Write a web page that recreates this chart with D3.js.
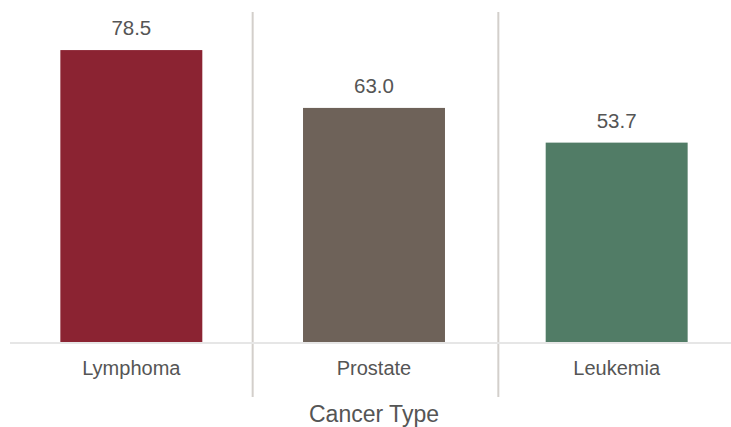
<!DOCTYPE html>
<html>
<head>
<meta charset="utf-8">
<script src="https://cdn.jsdelivr.net/npm/d3@7"></script>
<style>
  html, body { margin: 0; padding: 0; background: #fff; }
  svg { display: block; font-family: "Liberation Sans", Arial, sans-serif; }
</style>
</head>
<body>
<svg id="chart" width="731" height="427"></svg>
<script>
// Survival rates by cancer type
const categories = ["Lymphoma", "Prostate", "Leukemia"];
const values = [78.5, 63.0, 53.7];
const barColors = ["#8B2332", "#6E6259", "#517C66"];
const axisTitle = "Cancer Type";

const svg = d3.select("#chart");
const width = 731, height = 427;
const baseY = 343, topY = 12;

const x = d3.scaleBand()
  .domain(categories)
  .range([10, 738])
  .paddingInner(0)
  .paddingOuter(0);

const y = d3.scaleLinear()
  .domain([0, d3.max(values) * 1.13])
  .range([baseY, topY]);

const barW = x.bandwidth() * 0.585;

// vertical separators between categories
svg.append("g")
  .selectAll("line")
  .data(categories.slice(1))
  .join("line")
  .attr("x1", (d, i) => x(d) + i * 3)
  .attr("x2", (d, i) => x(d) + i * 3)
  .attr("y1", topY)
  .attr("y2", 397)
  .attr("stroke", "#d3cfcb")
  .attr("stroke-width", 2);

// bars
svg.append("g")
  .selectAll("rect")
  .data(values)
  .join("rect")
  .attr("x", (d, i) => x(categories[i]) + (x.bandwidth() - barW) / 2)
  .attr("y", d => y(d))
  .attr("width", barW)
  .attr("height", d => baseY - y(d))
  .attr("fill", (d, i) => barColors[i]);

// baseline
svg.append("line")
  .attr("x1", 10)
  .attr("x2", width)
  .attr("y1", baseY)
  .attr("y2", baseY)
  .attr("stroke", "#e6e6e6")
  .attr("stroke-width", 2);

// value labels
svg.append("g")
  .selectAll("text")
  .data(values)
  .join("text")
  .attr("x", (d, i) => x(categories[i]) + x.bandwidth() / 2)
  .attr("y", d => y(d) - 15)
  .attr("text-anchor", "middle")
  .attr("font-size", 20.5)
  .attr("fill", "#555")
  .text(d => d.toFixed(1));

// category labels
svg.append("g")
  .selectAll("text")
  .data(categories)
  .join("text")
  .attr("x", d => x(d) + x.bandwidth() / 2)
  .attr("y", 375)
  .attr("text-anchor", "middle")
  .attr("font-size", 20)
  .attr("fill", "#555")
  .text(d => d);

// axis title
svg.append("text")
  .attr("x", x("Prostate") + x.bandwidth() / 2)
  .attr("y", 422)
  .attr("text-anchor", "middle")
  .attr("font-size", 23)
  .attr("fill", "#555")
  .text(axisTitle);
</script>
</body>
</html>
